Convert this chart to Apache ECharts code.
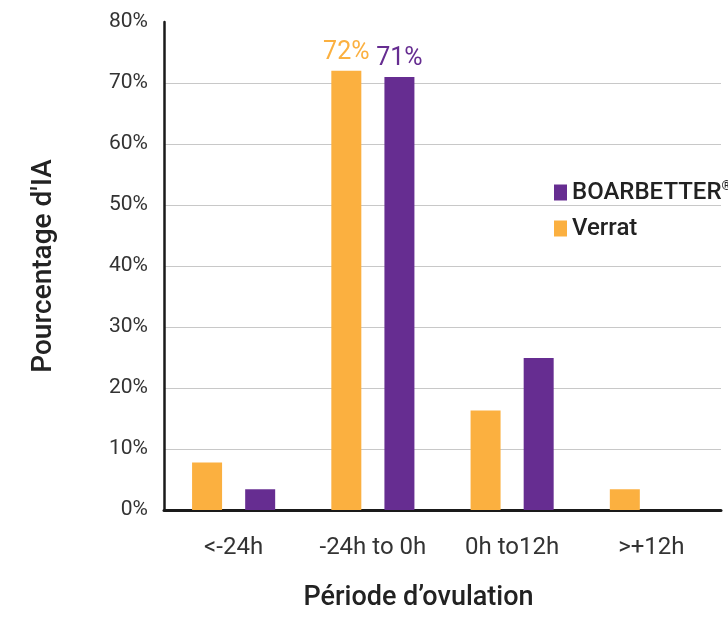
<!DOCTYPE html>
<html>
<head>
<meta charset="utf-8">
<script src="https://cdn.jsdelivr.net/npm/echarts@6/dist/echarts.min.js"></script>
<style>
  html, body { margin: 0; padding: 0; background: #fff; }
  #chart { width: 728px; height: 617px; }
</style>
</head>
<body>
<div id="chart"></div>
<script>
// Ovulation periods (x axis)
const categories = ['<-24h', '-24h to 0h', '0h to12h', '>+12h'];
// Share of inseminations (%) per period
const verratValues = [7.8, 72, 16.3, 3.4];
const boarbetterValues = [3.4, 71, 24.9, null];
// Only the main period carries a value label
const labelledIndex = 1;
const yTicks = { min: 0, max: 80, interval: 10 };

const ORANGE = '#FBB040';
const PURPLE = '#662D91';
const FONT = 'Roboto, "DejaVu Sans", sans-serif';

function withLabel(values, color) {
  return values.map((v, i) => {
    if (v === null) return '-';
    if (i !== labelledIndex) return v;
    return {
      value: v,
      label: {
        show: true,
        position: 'top',
        distance: 6,
        formatter: p => Math.round(p.value) + '%',
        color: color,
        fontFamily: FONT,
        fontSize: 25
      }
    };
  });
}

const chart = echarts.init(document.getElementById('chart'), null, { renderer: 'canvas' });
chart.setOption({
  animation: false,
  backgroundColor: '#ffffff',
  textStyle: { fontFamily: FONT },
  grid: { left: 164, right: 7, top: 22, bottom: 100, containLabel: false },
  legend: {
    orient: 'vertical',
    left: 549,
    top: 175,
    itemWidth: 13,
    itemHeight: 16,
    itemGap: 12,
    icon: 'rect',
    data: ['BOARBETTER', 'Verrat'],
    formatter: name => name === 'BOARBETTER' ? 'BOARBETTER{sup|®}' : name,
    textStyle: {
      color: '#222',
      fontSize: 24,
      fontWeight: 500,
      rich: {
        sup: { fontSize: 13, fontWeight: 500, color: '#222', verticalAlign: 'top', padding: [0, 0, 12, 0] }
      }
    }
  },
  xAxis: {
    type: 'category',
    data: categories,
    name: 'Période d’ovulation',
    nameLocation: 'middle',
    nameGap: 75,
    nameTextStyle: { color: '#222', fontSize: 27, fontWeight: 500, padding: [0, 48, 0, 0] },
    axisLine: { show: true, lineStyle: { color: '#1a1a1a', width: 3 } },
    axisTick: { show: false },
    axisLabel: { color: '#333', fontSize: 24, margin: 26 }
  },
  yAxis: {
    type: 'value',
    min: yTicks.min,
    max: yTicks.max,
    interval: yTicks.interval,
    name: "Pourcentage d'IA",
    nameLocation: 'middle',
    nameGap: 106,
    nameTextStyle: { color: '#222', fontSize: 28, fontWeight: 500 },
    axisLine: { show: true, lineStyle: { color: '#1a1a1a', width: 2.5 } },
    axisTick: { show: false },
    axisLabel: { color: '#333', fontSize: 21, margin: 16, formatter: v => v + '%' },
    splitLine: { show: true, showMaxLine: false, lineStyle: { color: '#c8c8c8', width: 1.2 } }
  },
  series: [
    {
      name: 'Verrat',
      type: 'bar',
      data: withLabel(verratValues, ORANGE),
      barWidth: 30,
      barGap: '77%',
      itemStyle: { color: ORANGE }
    },
    {
      name: 'BOARBETTER',
      type: 'bar',
      data: withLabel(boarbetterValues, PURPLE),
      barWidth: 30,
      itemStyle: { color: PURPLE }
    }
  ]
});
</script>
</body>
</html>
